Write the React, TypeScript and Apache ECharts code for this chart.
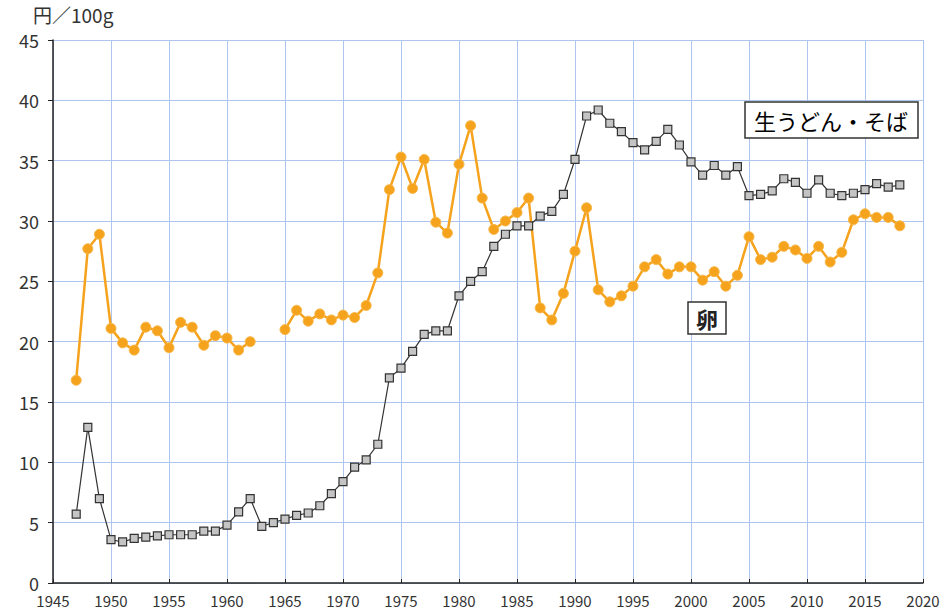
import React, { useEffect, useRef } from "react";
import * as echarts from "echarts";

const years: number[] = [];
for (let y = 1947; y <= 2018; y++) years.push(y);

const eggValues: (number | null)[] = [
  16.8, 27.7, 28.9, 21.1, 19.9, 19.3, 21.2, 20.9, 19.5, 21.6,
  21.2, 19.7, 20.5, 20.3, 19.3, 20.0, null, null, 21.0, 22.6,
  21.7, 22.3, 21.8, 22.2, 22.0, 23.0, 25.7, 32.6, 35.3, 32.7,
  35.1, 29.9, 29.0, 34.7, 37.9, 31.9, 29.3, 30.0, 30.7, 31.9,
  22.8, 21.8, 24.0, 27.5, 31.1, 24.3, 23.3, 23.8, 24.6, 26.2,
  26.8, 25.6, 26.2, 26.2, 25.1, 25.8, 24.6, 25.5, 28.7, 26.8,
  27.0, 27.9, 27.6, 26.9, 27.9, 26.6, 27.4, 30.1, 30.6, 30.3,
  30.3, 29.6,
];

const noodleValues: number[] = [
  5.7, 12.9, 7.0, 3.6, 3.4, 3.7, 3.8, 3.9, 4.0, 4.0,
  4.0, 4.3, 4.3, 4.8, 5.9, 7.0, 4.7, 5.0, 5.3, 5.6,
  5.8, 6.4, 7.4, 8.4, 9.6, 10.2, 11.5, 17.0, 17.8, 19.2,
  20.6, 20.9, 20.9, 23.8, 25.0, 25.8, 27.9, 28.9, 29.6, 29.6,
  30.4, 30.8, 32.2, 35.1, 38.7, 39.2, 38.1, 37.4, 36.5, 35.9,
  36.6, 37.6, 36.3, 34.9, 33.8, 34.6, 33.8, 34.5, 32.1, 32.2,
  32.5, 33.5, 33.2, 32.3, 33.4, 32.3, 32.1, 32.3, 32.6, 33.1,
  32.8, 33.0,
];

const seriesNames = ["卵", "生うどん・そば"];
const yAxisUnit = "円／100g";

const FONT = "'Noto Sans CJK JP', 'Noto Sans', sans-serif";

export default function App() {
  const ref = useRef<HTMLDivElement>(null);
  useEffect(() => {
    if (!ref.current) return;
    const chart = echarts.init(ref.current, undefined, { renderer: "svg" });
    const gridColor = "#aec6ee";
    chart.setOption({
      animation: false,
      backgroundColor: "#ffffff",
      grid: { left: 53, right: 23, top: 40, bottom: 31, containLabel: false },
      xAxis: {
        type: "value",
        min: 1945,
        max: 2020,
        interval: 5,
        axisLine: { show: true, lineStyle: { color: "#222", width: 1.5 } },
        axisTick: { show: true, inside: true, length: 4, lineStyle: { color: "#222" } },
        axisLabel: {
          color: "#333",
          fontSize: 15,
          fontFamily: FONT,
          margin: 10,
          formatter: (v: number) => String(v),
        },
        splitLine: { show: true, lineStyle: { color: gridColor, width: 1 } },
      },
      yAxis: {
        type: "value",
        min: 0,
        max: 45,
        interval: 5,
        axisLine: { show: true, lineStyle: { color: "#222", width: 1.5 } },
        axisTick: { show: true, inside: false, length: 5, lineStyle: { color: "#222" } },
        axisLabel: { color: "#333", fontSize: 18, fontFamily: FONT, margin: 14 },
        splitLine: { show: true, lineStyle: { color: gridColor, width: 1 } },
      },
      series: [
        {
          name: seriesNames[0],
          type: "line",
          data: years.map((y, i) => [y, eggValues[i] === null ? "-" : eggValues[i]]),
          connectNulls: false,
          symbol: "circle",
          symbolSize: 10,
          lineStyle: { color: "#f5a21c", width: 2.5 },
          itemStyle: { color: "#f5a21c", borderColor: "#f8b84a", borderWidth: 1 },
          z: 2,
        },
        {
          name: seriesNames[1],
          type: "line",
          data: years.map((y, i) => [y, noodleValues[i]]),
          symbol: "rect",
          symbolSize: 8,
          lineStyle: { color: "#333", width: 1.2 },
          itemStyle: { color: "#c4c4c4", borderColor: "#333", borderWidth: 1.2 },
          z: 3,
        },
      ],
      graphic: [
        {
          type: "text",
          left: 33,
          top: 5,
          style: { text: yAxisUnit, fontSize: 19, fill: "#333", fontFamily: FONT },
        },
        {
          type: "rect",
          shape: { x: 745, y: 102, width: 173, height: 36 },
          style: { fill: "#fff", stroke: "#333", lineWidth: 1.5 },
          z: 10,
        },
        {
          type: "text",
          x: 831,
          y: 120,
          style: {
            text: seriesNames[1],
            fontSize: 22,
            fontWeight: "normal",
            fill: "#000",
            fontFamily: FONT,
            align: "center",
            verticalAlign: "middle",
          },
          z: 11,
        },
        {
          type: "rect",
          shape: { x: 688, y: 302, width: 38, height: 32 },
          style: { fill: "#fff", stroke: "#333", lineWidth: 1.5 },
          z: 10,
        },
        {
          type: "text",
          x: 707,
          y: 318,
          style: {
            text: seriesNames[0],
            fontSize: 22,
            fontWeight: "bold",
            fill: "#222",
            fontFamily: FONT,
            align: "center",
            verticalAlign: "middle",
          },
          z: 11,
        },
      ],
    });
    return () => chart.dispose();
  }, []);
  return (
    <div
      ref={ref}
      style={{ position: "absolute", left: 0, top: 0, width: 946, height: 614 }}
    />
  );
}
